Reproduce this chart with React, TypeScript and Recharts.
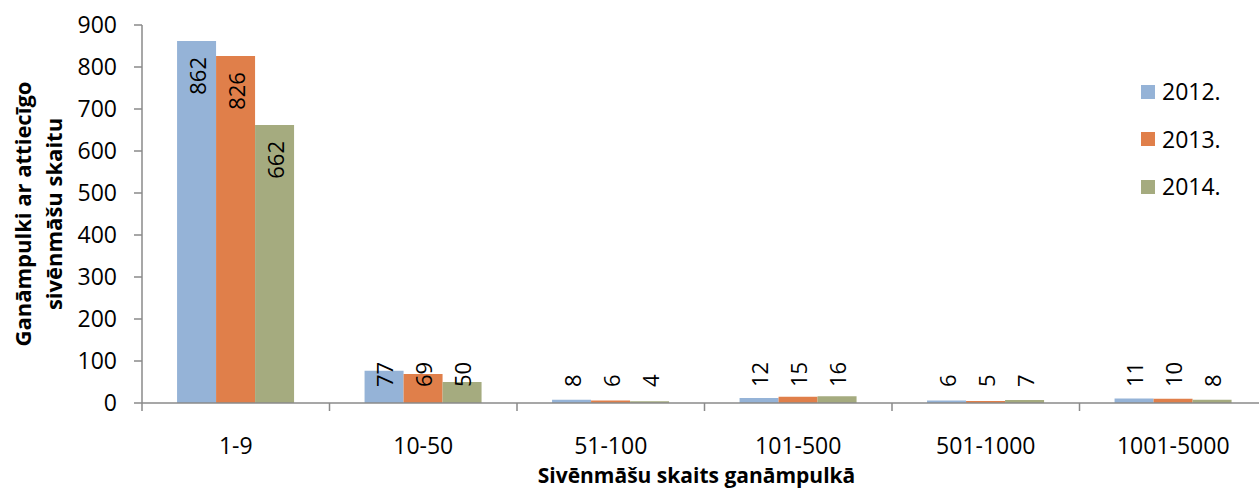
import React from "react";
import {
  BarChart,
  Bar,
  XAxis,
  YAxis,
  Legend,
  LabelList,
  Label,
} from "recharts";

const categories = ["1-9", "10-50", "51-100", "101-500", "501-1000", "1001-5000"];
const y2012 = [862, 77, 8, 12, 6, 11];
const y2013 = [826, 69, 6, 15, 5, 10];
const y2014 = [662, 50, 4, 16, 7, 8];
const seriesNames = ["2012.", "2013.", "2014."];
const seriesColors = ["#95B3D7", "#E07F4A", "#A5AB7F"];
const yTicks = [0, 100, 200, 300, 400, 500, 600, 700, 800, 900];

const data = categories.map((c, i) => ({
  name: c,
  s2012: y2012[i],
  s2013: y2013[i],
  s2014: y2014[i],
}));
const keys = ["s2012", "s2013", "s2014"];

const FONT = "'Open Sans', 'DejaVu Sans', sans-serif";
const AXIS = "#8A8A8A";
const CHART_W = 1280;
const CHART_H = 491;
const MARGIN = { top: 25, right: 13, bottom: 28, left: 0 };
const Y_W = 142;
const PLOT_W = CHART_W - MARGIN.left - MARGIN.right - Y_W;
const TICK = 8;
const TICK_GAP = 27;

// category label plus a tick mark on the left edge of its band
const CategoryTick = (props: any) => {
  const { x, y, payload } = props;
  const band = PLOT_W / categories.length;
  const left = x - band / 2;
  const axisY = y - TICK - TICK_GAP;
  return (
    <g>
      <line x1={left} x2={left} y1={axisY} y2={axisY + TICK} stroke={AXIS} strokeWidth={1.5} />
      <text x={x} y={y} dy="0.71em" textAnchor="middle" fontSize={23} fontFamily={FONT} fill="#000">
        {payload.value}
      </text>
    </g>
  );
};

const BarValueLabel = (props: any) => {
  const x = Number(props.x);
  const y = Number(props.y);
  const width = Number(props.width);
  const height = Number(props.height);
  const value = props.value;
  const cx = x + width / 2;
  const len = String(value).length * 12.6;
  let py = y + 16;
  let anchor = "end";
  if (height < 32 + len) {
    py = y + height - 16;
    anchor = "start";
  }
  return (
    <text
      x={cx}
      y={py}
      transform={`rotate(-90 ${cx} ${py})`}
      textAnchor={anchor}
      dominantBaseline="central"
      fontSize={22}
      fontFamily={FONT}
      fill="#000"
    >
      {value}
    </text>
  );
};

const YTitle = (props: any) => {
  const vb = props.viewBox || { y: 25, height: 378 };
  const cy = vb.y + vb.height / 2;
  return (
    <g fontFamily={FONT} fontWeight="bold" fontSize={22} fill="#000">
      <text x={-cy} y={31} transform="rotate(-90)" textAnchor="middle">
        Ganāmpulki ar attiecīgo
      </text>
      <text x={-cy} y={62} transform="rotate(-90)" textAnchor="middle">
        sivēnmāšu skaitu
      </text>
    </g>
  );
};

const XTitle = (props: any) => {
  const vb = props.viewBox || { x: 142, width: PLOT_W };
  const cx = vb.x + vb.width / 2 - 8;
  return (
    <text x={cx} y={483} textAnchor="middle" fontFamily={FONT} fontWeight="bold" fontSize={21} fill="#000">
      Sivēnmāšu skaits ganāmpulkā
    </text>
  );
};

const LegendBox = () => (
  <div style={{ fontFamily: FONT }}>
    {seriesNames.map((n, i) => (
      <div key={n} style={{ display: "flex", alignItems: "center", height: 47.5 }}>
        <span style={{ width: 14, height: 14, background: seriesColors[i], marginRight: 7, display: "inline-block" }} />
        <span style={{ fontSize: 23, lineHeight: 1, color: "#000" }}>{n}</span>
      </div>
    ))}
  </div>
);

export default function App() {
  return (
    <div
      style={{
        position: "absolute",
        left: 0,
        top: 0,
        width: 1259,
        height: 491,
        overflow: "hidden",
        background: "#fff",
        fontFamily: FONT,
      }}
    >
      <BarChart width={CHART_W} height={CHART_H} data={data} margin={MARGIN} barCategoryGap="18.7%" barGap={0}>
        <XAxis
          dataKey="name"
          height={60}
          stroke={AXIS}
          axisLine={{ stroke: AXIS, strokeWidth: 1.5 }}
          tickLine={false}
          tickSize={TICK}
          tickMargin={TICK_GAP}
          tick={<CategoryTick />}
          interval={0}
        >
          <Label content={<XTitle />} />
        </XAxis>
        <YAxis
          width={Y_W}
          domain={[0, 900]}
          ticks={yTicks}
          interval={0}
          axisLine={{ stroke: AXIS, strokeWidth: 1.5 }}
          tickLine={{ stroke: AXIS, strokeWidth: 1.5 }}
          tickSize={TICK}
          tickMargin={17}
          tick={{ fill: "#000", fontSize: 23, fontFamily: FONT }}
        >
          <Label content={<YTitle />} />
        </YAxis>
        <Legend
          layout="vertical"
          align="center"
          verticalAlign="middle"
          content={<LegendBox />}
          wrapperStyle={{ left: 1141, top: 68, width: 120 }}
        />
        {keys.map((k, i) => (
          <Bar key={k} dataKey={k} name={seriesNames[i]} fill={seriesColors[i]} isAnimationActive={false}>
            <LabelList dataKey={k} content={<BarValueLabel />} />
          </Bar>
        ))}
      </BarChart>
    </div>
  );
}
